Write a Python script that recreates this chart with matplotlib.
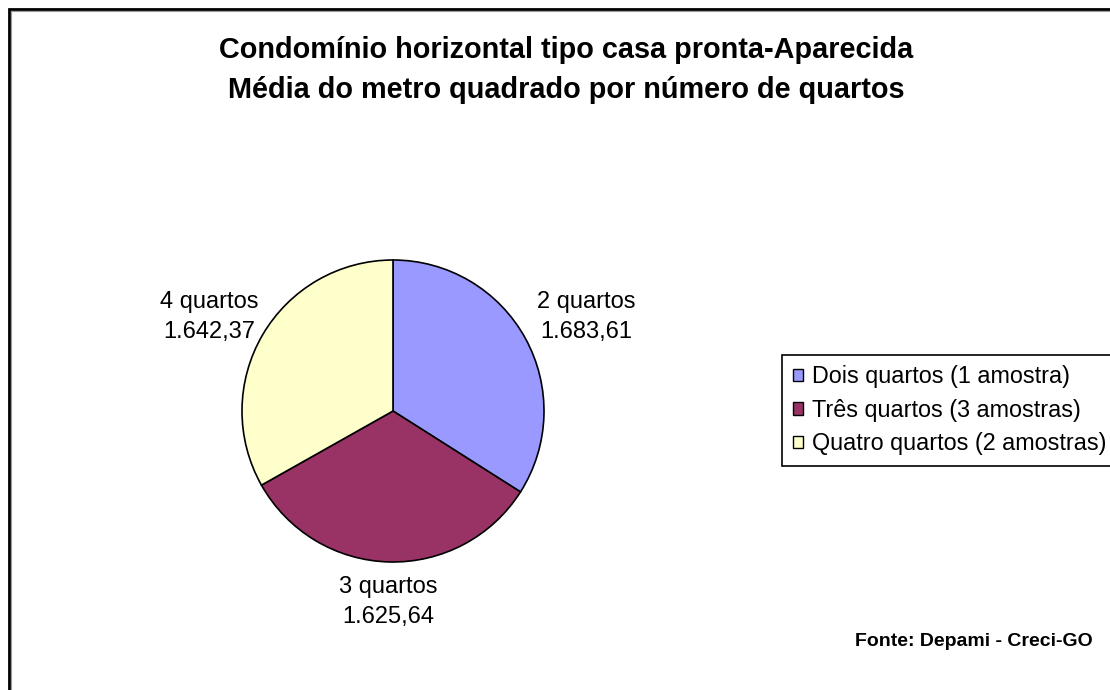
import matplotlib
matplotlib.use("Agg")
import matplotlib.pyplot as plt
from matplotlib.patches import Patch, Rectangle
import numpy as np

plt.rcParams['font.family'] = ['Liberation Sans', 'DejaVu Sans']

categories = ["2 quartos", "3 quartos", "4 quartos"]
values = [1683.61, 1625.64, 1642.37]
value_labels = ["1.683,61", "1.625,64", "1.642,37"]
legend_labels = ["Dois quartos (1 amostra)", "Três quartos (3 amostras)", "Quatro quartos (2 amostras)"]
colors = ["#9999FF", "#993366", "#FFFFCC"]
title_lines = ["Condomínio horizontal tipo casa pronta-Aparecida",
               "Média do metro quadrado por número de quartos"]
source = "Fonte: Depami - Creci-GO"

W, H = 1110, 690
fig = plt.figure(figsize=(W / 100, H / 100), dpi=100)
fig.patch.set_facecolor("white")

# pie axes: center (393, 411) px, radius 151 px
cx, cy, r = 393, 411, 151
ax = fig.add_axes([(cx - r) / W, (H - cy - r) / H, 2 * r / W, 2 * r / H])
wedges, _ = ax.pie(values, colors=colors, startangle=90, counterclock=False,
                   wedgeprops=dict(edgecolor="black", linewidth=1.2))
ax.set_xlim(-1, 1)
ax.set_ylim(-1, 1)
ax.set_aspect("equal")
ax.axis("off")

label_dist = [1.46, 1.265, 1.41]
label_dy = [-0.08, 0.0, -0.09]
for w, cat, vl, d, dy in zip(wedges, categories, value_labels, label_dist, label_dy):
    th = np.deg2rad((w.theta1 + w.theta2) / 2)
    ax.text(d * np.cos(th), d * np.sin(th) + dy, f"{cat}\n{vl}", ha="center", va="center",
            fontsize=17, linespacing=1.5, clip_on=False)

# title
fig.text(566 / W, 1 - 50 / H, title_lines[0], ha="center", va="center",
         fontsize=20.8, fontweight="bold")
fig.text(566 / W, 1 - 90 / H, title_lines[1], ha="center", va="center",
         fontsize=20.8, fontweight="bold")

# legend
handles = [Patch(facecolor=c, edgecolor="black", linewidth=1) for c in colors]
leg = fig.legend(handles, legend_labels, loc="upper left",
                 bbox_to_anchor=(782 / W, 1 - 355 / H), borderaxespad=0,
                 fontsize=16.8, handlelength=0.45, handleheight=0.45,
                 handletextpad=0.4, labelspacing=0.45, borderpad=0.45,
                 fancybox=False, framealpha=1, edgecolor="black")
leg.get_frame().set_linewidth(1.2)

# source
fig.text(1093 / W, 1 - 642 / H, source, ha="right", va="center",
         fontsize=14, fontweight="bold")

# outer frame (right/bottom edges beyond the image)
fig.add_artist(Rectangle((9 / W, -0.1), 1.2, (H - 9) / H + 0.1,
                         transform=fig.transFigure, fill=False,
                         edgecolor="black", linewidth=2))
fig.add_artist(Rectangle((11 / W, -0.1), 1.2, (H - 11) / H + 0.1,
                         transform=fig.transFigure, fill=False,
                         edgecolor="#999999", linewidth=0.8))

fig.savefig("out.png", dpi=100, facecolor="white")
